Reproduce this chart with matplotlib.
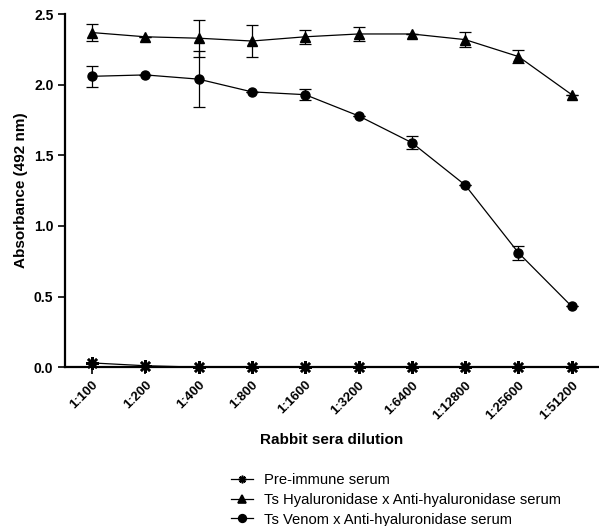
import numpy as np
import matplotlib
matplotlib.use('Agg')
import matplotlib.pyplot as plt

plt.rcParams['font.family'] = ['Liberation Sans', 'DejaVu Sans']

# data
dilutions = ['1:100', '1:200', '1:400', '1:800', '1:1600', '1:3200',
             '1:6400', '1:12800', '1:25600', '1:51200']
pre_immune = [0.03, 0.01, 0.0, 0.0, 0.0, 0.0, 0.0, 0.0, 0.0, 0.0]
hyal = [2.37, 2.34, 2.33, 2.31, 2.34, 2.36, 2.36, 2.32, 2.20, 1.93]
hyal_err = [0.06, 0.0, 0.13, 0.11, 0.05, 0.05, 0.0, 0.055, 0.045, 0.0]
venom = [2.06, 2.07, 2.04, 1.95, 1.93, 1.78, 1.59, 1.29, 0.81, 0.43]
venom_err = [0.075, 0.0, 0.20, 0.0, 0.04, 0.0, 0.045, 0.0, 0.05, 0.0]

x = np.arange(len(dilutions))

fig = plt.figure(figsize=(5.99, 5.26), dpi=100)
ax = fig.add_axes([0.109, 0.302, 0.89, 0.671])

star = (8, 2, 0)
ax.errorbar(x, hyal, yerr=hyal_err, fmt='none', ecolor='black',
            capsize=4, elinewidth=0.9, capthick=0.9)
ax.errorbar(x, venom, yerr=venom_err, fmt='none', ecolor='black',
            capsize=4, elinewidth=0.9, capthick=0.9)
l1, = ax.plot(x, pre_immune, color='black', lw=0.9, marker=star, ms=9, mew=1.8,
              clip_on=False, zorder=5)
l2, = ax.plot(x, hyal, color='black', lw=0.9, marker='^', ms=6.5)
l3, = ax.plot(x, venom, color='black', lw=0.9, marker='o', ms=6.5)

ax.set_xlim(-0.5, 9.5)
ax.set_ylim(0, 2.5)
ax.set_yticks([0.0, 0.5, 1.0, 1.5, 2.0, 2.5])
ax.set_yticklabels(['0.0', '0.5', '1.0', '1.5', '2.0', '2.5'], fontweight='bold', fontsize=10)
ax.set_xticks(x)
ax.set_xticklabels(dilutions, rotation=45, ha='right', rotation_mode='anchor',
                   fontweight='bold', fontsize=9.5)
ax.tick_params(axis='both', width=1.2, length=5)

for s in ['top', 'right']:
    ax.spines[s].set_visible(False)
for s in ['left', 'bottom']:
    ax.spines[s].set_linewidth(1.6)

ax.set_ylabel('Absorbance (492 nm)', fontweight='bold', fontsize=11)
ax.set_xlabel('Rabbit sera dilution', fontweight='bold', fontsize=11, labelpad=8)

leg = fig.legend([l1, l2, l3],
                 ['Pre-immune serum', 'Ts Hyaluronidase x Anti-hyaluronidase serum',
                  'Ts Venom x Anti-hyaluronidase serum'],
                 loc='upper left', bbox_to_anchor=(0.385, 0.1), frameon=False,
                 fontsize=10.6, handlelength=1.5, handletextpad=0.8, labelspacing=0.38,
                 borderaxespad=0, borderpad=0)
for h in leg.legend_handles:
    h.set_markersize(5.5)
    h.set_markeredgewidth(1.2)

plt.savefig('out.png', dpi=100)
